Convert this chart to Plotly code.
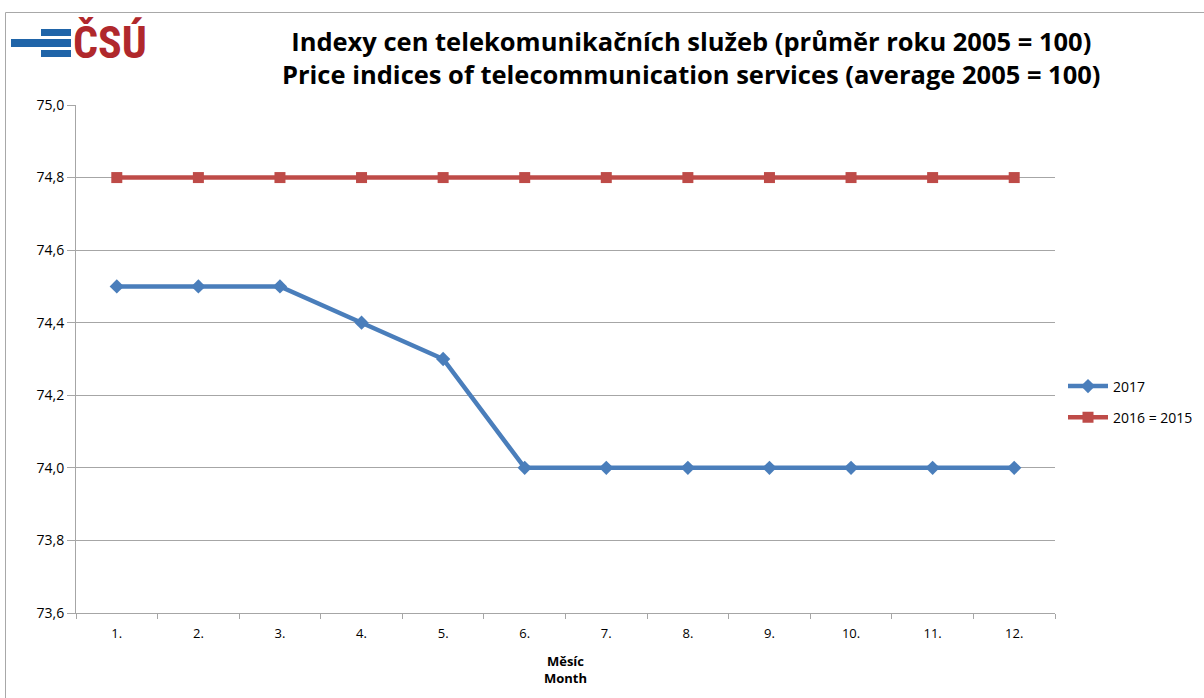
import plotly.graph_objects as go

months = ["1.", "2.", "3.", "4.", "5.", "6.", "7.", "8.", "9.", "10.", "11.", "12."]
values_2017 = [74.5, 74.5, 74.5, 74.4, 74.3, 74.0, 74.0, 74.0, 74.0, 74.0, 74.0, 74.0]
values_2016 = [74.8] * 12
y_ticks = [73.6, 73.8, 74.0, 74.2, 74.4, 74.6, 74.8, 75.0]

BLUE = "#4A7EBB"
RED = "#BE4B48"
FONT = "Open Sans"

fig = go.Figure()
fig.add_trace(go.Scatter(
    x=months, y=values_2017, name="2017", mode="lines+markers", legendgroup="a",
    line=dict(color=BLUE, width=4.5),
    marker=dict(symbol="diamond", size=11, color=BLUE),
))
fig.add_trace(go.Scatter(
    x=months, y=values_2016, name="2016 = 2015", mode="lines+markers", legendgroup="b",
    line=dict(color=RED, width=4.5),
    marker=dict(symbol="square", size=11, color=RED),
))

L, R, T, B = 76, 149, 105, 85
W, H = 1204, 698
pw = W - L - R
ph = H - T - B

def px(x):
    return (x - L) / pw

def py(y):
    return (H - B - y) / ph

fig.update_layout(
    width=W, height=H,
    margin=dict(l=L, r=R, t=T, b=B, autoexpand=False),
    paper_bgcolor="white", plot_bgcolor="white",
    separators=",.",
    font=dict(family=FONT, color="#000000", size=13),
    showlegend=True,
    legend=dict(
        x=px(1063), y=py(402), xanchor="left", yanchor="middle",
        font=dict(size=14, family=FONT), bgcolor="rgba(0,0,0,0)",
        tracegroupgap=10, itemwidth=40,
    ),
    xaxis=dict(
        type="category", tickson="boundaries", ticks="outside", ticklen=5,
        tickcolor="#A6A6A6", showline=True, linecolor="#A6A6A6", linewidth=1,
        showgrid=False, tickfont=dict(size=13), range=[-0.5, 11.5],
        ticklabelstandoff=8,
        title=dict(text="<b>Měsíc<br>Month</b>", font=dict(size=13), standoff=16),
    ),
    yaxis=dict(
        range=[73.6, 75.0], tickvals=y_ticks, tickformat=".1f",
        ticks="outside", ticklen=8, tickcolor="#A6A6A6",
        showline=True, linecolor="#A6A6A6", linewidth=1,
        showgrid=True, gridcolor="#A6A6A6", gridwidth=1,
        tickfont=dict(size=14), zeroline=False,
    ),
)

# Title
fig.add_annotation(
    xref="paper", yref="paper", x=px(691), y=py(58), xanchor="center", yanchor="middle",
    text="<b>Indexy cen telekomunikačních služeb (průměr roku 2005 = 100)<br>"
         "Price indices of telecommunication services (average 2005 = 100)</b>",
    showarrow=False, font=dict(size=25.5, family=FONT, color="#000000"), align="center",
)

# Outer chart border
fig.add_shape(type="line", xref="paper", yref="paper", x0=px(5.5), x1=px(5.5), y0=py(12.5), y1=py(700),
              line=dict(color="#A8A8A8", width=1))
fig.add_shape(type="line", xref="paper", yref="paper", x0=px(5.5), x1=px(1210), y0=py(12.5), y1=py(12.5),
              line=dict(color="#A8A8A8", width=1))

# Logo
LOGO_BLUE = "#1F64A8"
for (x0, x1, y0, y1) in [(11, 71, 39, 47), (41, 71, 29, 36), (41, 71, 50, 57)]:
    fig.add_shape(type="rect", xref="paper", yref="paper", x0=px(x0), x1=px(x1), y0=py(y1), y1=py(y0),
                  fillcolor=LOGO_BLUE, line=dict(width=0))
fig.add_annotation(
    xref="paper", yref="paper", x=px(71), y=py(43), xanchor="left", yanchor="middle",
    text="<b>ČSÚ</b>", showarrow=False,
    font=dict(size=44, family="Liberation Sans Narrow, Roboto Condensed, Roboto", color="#B0282C"),
)

fig.write_html("out.html", config={"displayModeBar": False},
               post_script="document.body.style.margin='0';")
